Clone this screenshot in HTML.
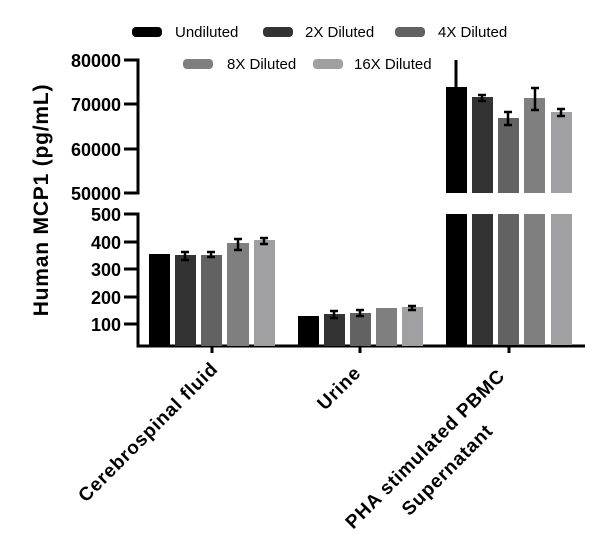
<!DOCTYPE html>
<html><head><style>body{margin:0;background:#fff}svg{display:block}</style></head><body>
<svg width="600" height="546" xmlns="http://www.w3.org/2000/svg" font-family="Liberation Sans, sans-serif">
<g font-size="15" fill="#000">
<rect x="132" y="27" width="30" height="10" rx="4" fill="#000"/><text x="175" y="37">Undiluted</text>
<rect x="263" y="27" width="30" height="10" rx="4" fill="#333"/><text x="305" y="37">2X Diluted</text>
<rect x="395" y="27" width="30" height="10" rx="4" fill="#626262"/><text x="438" y="37">4X Diluted</text>
<rect x="183" y="59" width="30" height="10" rx="4" fill="#7f7f7f"/><text x="227" y="69">8X Diluted</text>
<rect x="313" y="59" width="30" height="10" rx="4" fill="#a0a0a2"/><text x="354" y="69">16X Diluted</text>
</g>
<g stroke="#000" stroke-width="3" fill="none">
<path d="M124 60H138V193H124M138 104H124M138 149H124"/>
<path d="M124 214H138V346H585M138 242H124M138 269H124M138 297H124M138 324H124"/>
<path d="M212 346V353M360 346V353M509 346V353"/>
</g>
<g font-size="18" font-weight="bold" text-anchor="end">
<text x="121" y="67">80000</text><text x="121" y="111">70000</text><text x="121" y="156">60000</text><text x="121" y="200">50000</text>
<text x="121" y="221">500</text><text x="121" y="249">400</text><text x="121" y="276">300</text><text x="121" y="304">200</text><text x="121" y="331">100</text>
</g>
<text transform="translate(48,200) rotate(-90)" font-size="21" font-weight="bold" text-anchor="middle" letter-spacing="0.8">Human  MCP1 (pg/mL)</text>
<g>
<rect x="149" y="254" width="21" height="92" fill="#000"/>
<rect x="175" y="255" width="21" height="91" fill="#333"/>
<rect x="201" y="255" width="21" height="91" fill="#626262"/>
<rect x="227" y="243" width="22" height="103" fill="#7f7f7f"/>
<rect x="254" y="240" width="21" height="106" fill="#a0a0a2"/>
<rect x="298" y="316" width="21" height="30" fill="#000"/>
<rect x="324" y="314" width="21" height="32" fill="#333"/>
<rect x="350" y="313" width="21" height="33" fill="#626262"/>
<rect x="376" y="308" width="21" height="38" fill="#7f7f7f"/>
<rect x="402" y="307" width="21" height="39" fill="#a0a0a2"/>
<rect x="446" y="87" width="21" height="106" fill="#000"/><rect x="446" y="214" width="21" height="131" fill="#000"/>
<rect x="472" y="97" width="21" height="96" fill="#333"/><rect x="472" y="214" width="21" height="131" fill="#333"/>
<rect x="498" y="118" width="21" height="75" fill="#626262"/><rect x="498" y="214" width="21" height="131" fill="#626262"/>
<rect x="524" y="98" width="21" height="95" fill="#7f7f7f"/><rect x="524" y="214" width="21" height="131" fill="#7f7f7f"/>
<rect x="551" y="112" width="21" height="81" fill="#a0a0a2"/><rect x="551" y="214" width="21" height="131" fill="#a0a0a2"/>
</g>
<g stroke="#000" stroke-width="2.5">
<path d="M185 252V260M181 252H189M181 260H189"/>
<path d="M211 252V257M207 252H215M207 257H215"/>
<path d="M238 239V250M234 239H242M234 250H242"/>
<path d="M264 238V244M260 238H268M260 244H268"/>
<path d="M334 311V318M330 311H338M330 318H338"/>
<path d="M360 310V316M356 310H364M356 316H364"/>
<path d="M412 306V310M408 306H416M408 310H416"/>
<path d="M456 60V95" stroke-width="3"/>
<path d="M482 95V101M478 95H486M478 101H486"/>
<path d="M508 112V125M504 112H512M504 125H512"/>
<path d="M535 88V110M531 88H539M531 110H539"/>
<path d="M561 109V116M557 109H565M557 116H565"/>
</g>
<g font-size="19" font-weight="bold" text-anchor="end" letter-spacing="0.8">
<text transform="translate(219,370) rotate(-45)">Cerebrospinal fluid</text>
<text transform="translate(362,374) rotate(-45)">Urine</text>
<text transform="translate(506,377) rotate(-45)">PHA stimulated PBMC</text>
<text transform="translate(494,432) rotate(-45)">Supernatant</text>
</g>
</svg>
</body></html>
